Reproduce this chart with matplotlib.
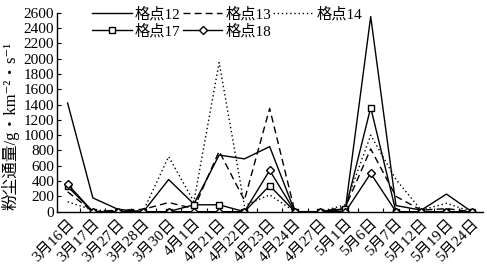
import matplotlib
matplotlib.use("Agg")
import matplotlib.pyplot as plt
import numpy as np

plt.rcParams['font.family'] = ['Liberation Serif', 'Noto Sans CJK SC', 'DejaVu Serif']

dates = ["3月16日", "3月17日", "3月27日", "3月28日", "3月30日", "4月1日",
         "4月21日", "4月22日", "4月23日", "4月24日", "4月27日", "5月1日",
         "5月6日", "5月7日", "5月12日", "5月19日", "5月24日"]

g12 = [1420, 180, 30, 0, 420, 100, 740, 690, 850, 0, 0, 40, 2550, 80, 20, 230, 0]
g13 = [260, 0, 20, 30, 120, 40, 790, 150, 1350, 0, 0, 60, 820, 200, 20, 40, 0]
g14 = [130, 20, 10, 10, 720, 130, 1950, 80, 220, 0, 0, 90, 1000, 420, 20, 110, 0]
g17 = [330, 0, 0, 0, 0, 90, 90, 0, 340, 0, 0, 30, 1360, 0, 0, 0, 0]
g18 = [360, 0, 0, 0, 0, 0, 0, 0, 540, 0, 0, 0, 500, 0, 0, 0, 0]

x = np.arange(len(dates))

fig = plt.figure(figsize=(4.87, 2.70), dpi=100)
ax = fig.add_axes([0.117, 0.216, 0.875, 0.737])

l12, = ax.plot(x, g12, color="black", lw=1.0, label="格点12")
l13, = ax.plot(x, g13, color="black", lw=1.0, ls=(0, (5, 3)), label="格点13")
l14, = ax.plot(x, g14, color="black", lw=1.0, ls=(0, (1, 2)), label="格点14")
l17, = ax.plot(x, g17, color="black", lw=1.0, marker="s", ms=5,
               mfc="white", mec="black", mew=1.0, label="格点17")
l18, = ax.plot(x, g18, color="black", lw=1.0, marker="D", ms=4,
               mfc="white", mec="black", mew=1.0, label="格点18")

ax.set_xlim(-0.42, 16.45)
ax.set_ylim(0, 2600)
ax.set_yticks(np.arange(0, 2601, 200))
ax.set_xticks(x)
ax.set_xticklabels(dates, rotation=45, ha="right", rotation_mode="anchor")
ax.set_xticks(np.arange(0.5, 16.5, 1), minor=True)
ax.tick_params(axis="x", which="major", length=0, labelsize=11, pad=4)
ax.tick_params(axis="x", which="minor", direction="in", length=3, width=0.8)
ax.tick_params(axis="y", direction="in", length=3, width=0.8, labelsize=11, pad=2)

for s in ["top", "right"]:
    ax.spines[s].set_visible(False)
for s in ["left", "bottom"]:
    ax.spines[s].set_linewidth(1.0)

ax.set_ylabel("粉尘通量/g・km⁻²・s⁻¹", fontsize=12)
ax.yaxis.set_label_coords(-0.087, 0.43)

handles = [l12, l17, l13, l18, l14]
fig.legend(handles, [h.get_label() for h in handles], ncol=3, frameon=False,
           loc="upper center", bbox_to_anchor=(0.466, 1.025), fontsize=11,
           handlelength=2.6, handletextpad=0.2, columnspacing=0.15,
           labelspacing=0.15)

fig.savefig("out.png", dpi=100)
